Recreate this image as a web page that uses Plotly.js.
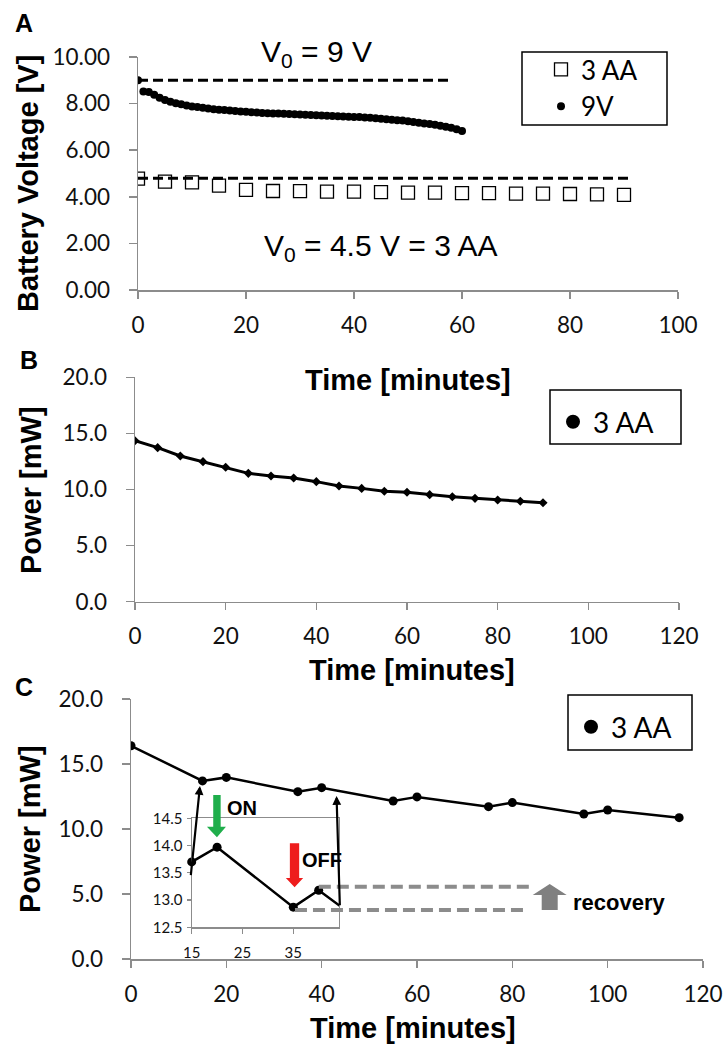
<!DOCTYPE html>
<html>
<head>
<meta charset="utf-8">
<script src="https://cdn.plot.ly/plotly-3.0.1.min.js"></script>
<style>html,body{margin:0;padding:0;background:#fff;}#chart{width:723px;height:1044px;}</style>
</head>
<body>
<div id="chart"></div>
<script>
// ---------- Panel A: battery voltage ----------
const aaTime = [0,5,10,15,20,25,30,35,40,45,50,55,60,65,70,75,80,85,90];
const aaVolt = [4.78,4.65,4.62,4.48,4.30,4.25,4.24,4.22,4.22,4.20,4.18,4.18,4.16,4.16,4.14,4.14,4.12,4.10,4.08];
const nineTime = [0,1,2,3,4,5,6,7,8,9,10,11,12,13,14,15,16,17,18,19,20,21,22,23,24,25,26,27,28,29,30,
  31,32,33,34,35,36,37,38,39,40,41,42,43,44,45,46,47,48,49,50,51,52,53,54,55,56,57,58,59,60];
const nineVolt = [9.00,8.52,8.50,8.38,8.25,8.15,8.08,8.02,7.97,7.92,7.88,7.85,7.82,7.79,7.76,7.74,7.72,7.70,7.68,7.66,
  7.65,7.63,7.62,7.60,7.59,7.58,7.57,7.56,7.55,7.54,7.53,7.52,7.51,7.50,7.49,7.48,7.47,7.46,7.45,7.44,
  7.43,7.42,7.40,7.39,7.37,7.35,7.33,7.31,7.29,7.27,7.24,7.21,7.18,7.15,7.12,7.09,7.05,7.01,6.96,6.90,6.82];
const v0High = 9.0;     // reference level, 9 V battery
const v0Low = 4.8;      // reference level, 3 AA
const aTicksY = [0,2,4,6,8,10];
const aTicksX = [0,20,40,60,80,100];

// ---------- Panel B: power, continuous ----------
const bTime = [0,5,10,15,20,25,30,35,40,45,50,55,60,65,70,75,80,85,90];
const bPower = [14.35,13.73,12.99,12.48,11.98,11.44,11.20,11.03,10.70,10.31,10.10,9.84,9.75,9.54,9.36,9.21,9.06,8.95,8.82];

// ---------- Panel C: power, on/off cycling ----------
const cTime = [0,15,20,35,40,55,60,75,80,95,100,115];
const cPower = [16.4,13.7,13.97,12.87,13.18,12.15,12.47,11.72,12.03,11.15,11.46,10.87];
const insetX = [15,44];
const insetY = [12.5,14.5];
const insetTicksX = [15,25,35];

const labels = {
  aa: '3 AA', nine: '9V',
  timeTitle: 'Time [minutes]', voltTitle: 'Battery Voltage [V]', powerTitle: 'Power [mW]',
  v9: 'V<sub>0</sub> = 9 V', v45: 'V<sub>0</sub> = 4.5 V = 3 AA',
  on: 'ON', off: 'OFF', rec: 'recovery'
};

// ---------- helpers ----------
const W = 723, H = 1044;
const px = v => v / W;
const py = v => 1 - v / H;
const AX = '#8c8c8c';
const TICKF = {family: 'Lato, Carlito, sans-serif', size: 22.5, color: '#111'};
const BOLD = {family: '"Liberation Sans", Arial, sans-serif', size: 29, color: '#000', weight: 700};
const REG30 = {family: '"Liberation Sans", Arial, sans-serif', size: 30, color: '#000'};

function axisBase(extra) {
  return Object.assign({
    showline: true, linecolor: AX, linewidth: 1.5,
    ticks: 'outside', ticklen: 7, tickwidth: 1.5, tickcolor: AX,
    showgrid: false, zeroline: false, tickfont: TICKF,
    ticklabelstandoff: 7, fixedrange: true
  }, extra);
}

function note(x, y, text, font, extra) {
  return Object.assign({xref: 'paper', yref: 'paper', x: px(x), y: py(y), text: text, showarrow: false,
    xanchor: 'center', yanchor: 'middle', font: font}, extra || {});
}

const traces = [
  {x: aaTime, y: aaVolt, xaxis: 'x', yaxis: 'y', mode: 'markers', name: labels.aa, legend: 'legend',
   marker: {symbol: 'square-open', size: 13, color: '#000', line: {width: 1.3, color: '#000'}}},
  {x: nineTime, y: nineVolt, xaxis: 'x', yaxis: 'y', mode: 'markers', name: labels.nine, legend: 'legend',
   marker: {symbol: 'circle', size: 8, color: '#000'}},
  {x: bTime, y: bPower, xaxis: 'x2', yaxis: 'y2', mode: 'lines+markers', showlegend: false,
   line: {color: '#000', width: 3}, marker: {symbol: 'diamond', size: 7, color: '#000'}},
  {x: [null], y: [null], xaxis: 'x2', yaxis: 'y2', mode: 'markers', name: labels.aa, legend: 'legend2',
   marker: {symbol: 'circle', size: 14, color: '#000'}},
  {x: cTime, y: cPower, xaxis: 'x3', yaxis: 'y3', mode: 'lines+markers', showlegend: false,
   line: {color: '#000', width: 2.5}, marker: {symbol: 'circle', size: 9, color: '#000'}},
  {x: [null], y: [null], xaxis: 'x3', yaxis: 'y3', mode: 'markers', name: labels.aa, legend: 'legend3',
   marker: {symbol: 'circle', size: 14, color: '#000'}},
  {x: cTime, y: cPower, xaxis: 'x4', yaxis: 'y4', mode: 'lines+markers', showlegend: false, cliponaxis: false,
   line: {color: '#000', width: 2.5},
   marker: {symbol: 'circle', size: 9, color: '#000',
     opacity: cTime.map((t, i) => (t >= insetX[0] && t <= insetX[1] && cPower[i] >= insetY[0] && cPower[i] <= insetY[1]) ? 1 : 0)}}
];

const layout = {
  width: W, height: H, margin: {l: 0, r: 0, t: 0, b: 0},
  paper_bgcolor: '#fff', plot_bgcolor: 'rgba(0,0,0,0)',
  font: {family: 'Lato, sans-serif', color: '#000'},
  xaxis: axisBase({domain: [px(138), px(678)], range: [0, 100], tickvals: aTicksX, anchor: 'y'}),
  yaxis: axisBase({domain: [py(290), py(57)], range: [0, 10], tickvals: aTicksY, tickformat: '.2f', anchor: 'x', ticklen: 8, ticklabelstandoff: 14}),
  xaxis2: axisBase({domain: [px(135), px(679)], range: [0, 120], dtick: 20, anchor: 'y2'}),
  yaxis2: axisBase({domain: [py(601.7), py(377.3)], range: [0, 20], dtick: 5, tickformat: '.1f', anchor: 'x2', ticklen: 8, ticklabelstandoff: 14}),
  xaxis3: axisBase({domain: [px(131), px(703)], range: [0, 120], dtick: 20, anchor: 'y3'}),
  yaxis3: axisBase({domain: [py(959), py(699)], range: [0, 20], dtick: 5, tickformat: '.1f', anchor: 'x3', ticklen: 8, ticklabelstandoff: 14}),
  xaxis4: axisBase({domain: [px(191.7), px(339)], range: insetX, tickvals: insetTicksX, anchor: 'y4',
    mirror: true, linewidth: 1.2, ticklen: 5, tickwidth: 1.2, ticklabelstandoff: 6,
    tickfont: {family: 'Lato, sans-serif', size: 15, color: '#111'}}),
  yaxis4: axisBase({domain: [py(927.3), py(818.3)], range: insetY, dtick: 0.5, tickformat: '.1f', anchor: 'x4',
    mirror: true, linewidth: 1.2, ticklen: 4, tickwidth: 1.2, ticklabelstandoff: 1,
    tickfont: {family: 'Lato, sans-serif', size: 15, color: '#111'}}),
  legend: {x: px(541), y: py(46), xanchor: 'left', yanchor: 'top', bgcolor: 'rgba(0,0,0,0)', borderwidth: 0,
    font: {family: 'Lato, sans-serif', size: 26, color: '#000'}},
  legend2: {x: px(553), y: py(397), xanchor: 'left', yanchor: 'top', bgcolor: 'rgba(0,0,0,0)', borderwidth: 0,
    font: {family: 'Lato, sans-serif', size: 28, color: '#000'}},
  legend3: {x: px(571), y: py(702), xanchor: 'left', yanchor: 'top', bgcolor: 'rgba(0,0,0,0)', borderwidth: 0,
    font: {family: 'Lato, sans-serif', size: 28, color: '#000'}},
  shapes: [
    // legend boxes
    {type: 'rect', xref: 'paper', yref: 'paper', x0: px(522), x1: px(667), y0: py(125), y1: py(52), line: {color: '#000', width: 1.5}},
    {type: 'rect', xref: 'paper', yref: 'paper', x0: px(550), x1: px(681), y0: py(444), y1: py(390), line: {color: '#000', width: 1.5}},
    {type: 'rect', xref: 'paper', yref: 'paper', x0: px(568), x1: px(692), y0: py(750), y1: py(695), line: {color: '#000', width: 1.5}},
    // V0 reference lines
    {type: 'line', xref: 'x', yref: 'y', x0: 0, x1: 58, y0: v0High, y1: v0High, line: {color: '#000', width: 3, dash: '10px,5px'}},
    {type: 'line', xref: 'x', yref: 'y', x0: 0, x1: 91, y0: v0Low, y1: v0Low, line: {color: '#000', width: 3, dash: '10px,5px'}},
    // recovery dashed levels
    {type: 'line', xref: 'x3', yref: 'y3', x0: 39.4, x1: 84.3, y0: 5.56, y1: 5.56, line: {color: '#8c8c8c', width: 4, dash: '12px,6px'}},
    {type: 'line', xref: 'x3', yref: 'y3', x0: 34.4, x1: 83.2, y0: 3.77, y1: 3.77, line: {color: '#8c8c8c', width: 4, dash: '12px,6px'}},
    // green ON arrow
    {type: 'path', xref: 'x3', yref: 'y3', fillcolor: '#1fae4b', line: {width: 0},
     path: 'M17.25,12.62 L18.81,12.62 L18.81,10.18 L19.92,10.18 L18.03,9.36 L15.93,10.18 L17.25,10.18 Z'},
    // red OFF arrow
    {type: 'path', xref: 'x3', yref: 'y3', fillcolor: '#ee1c1c', line: {width: 0},
     path: 'M33.33,8.90 L35.28,8.90 L35.28,6.23 L36.12,6.23 L34.32,5.52 L32.49,6.23 L33.33,6.23 Z'},
    // gray recovery arrow
    {type: 'path', xref: 'x3', yref: 'y3', fillcolor: '#808080', line: {width: 0},
     path: 'M86.16,3.77 L89.52,3.77 L89.52,4.92 L91.4,4.92 L87.84,5.77 L84.28,4.92 L86.16,4.92 Z'}
  ],
  annotations: [
    note(24, 23, 'A', Object.assign({}, BOLD, {size: 25})),
    note(29, 360, 'B', Object.assign({}, BOLD, {size: 25})),
    note(24, 687, 'C', Object.assign({}, BOLD, {size: 25})),
    note(28, 184, labels.voltTitle, BOLD, {textangle: -90}),
    note(408, 380, labels.timeTitle, BOLD),
    note(31, 490, labels.powerTitle, BOLD, {textangle: -90}),
    note(412, 670, labels.timeTitle, BOLD),
    note(30, 829, labels.powerTitle, BOLD, {textangle: -90}),
    note(413, 1028, labels.timeTitle, BOLD),
    note(316, 54, labels.v9, REG30),
    note(381, 247, labels.v45, REG30),
    {xref: 'x3', yref: 'y3', x: 23.27, y: 11.62, text: labels.on, showarrow: false,
     font: {family: '"Liberation Sans", Arial, sans-serif', size: 20, color: '#000', weight: 700}},
    {xref: 'x3', yref: 'y3', x: 40.04, y: 7.62, text: labels.off, showarrow: false,
     font: {family: '"Liberation Sans", Arial, sans-serif', size: 20, color: '#000', weight: 700}},
    {xref: 'x3', yref: 'y3', x: 102.5, y: 4.38, text: labels.rec, showarrow: false,
     font: {family: '"Liberation Sans", Arial, sans-serif', size: 22, color: '#000', weight: 700}},
    // zoom connector arrows (inset -> main curve)
    {xref: 'x3', yref: 'y3', axref: 'x3', ayref: 'y3', x: 14.47, y: 13.31, ax: 12.52, ay: 6.33, text: '',
     showarrow: true, arrowhead: 2, arrowsize: 0.8, arrowwidth: 2.2, arrowcolor: '#000'},
    {xref: 'x3', yref: 'y3', axref: 'x3', ayref: 'y3', x: 43.12, y: 12.54, ax: 43.82, ay: 4.02, text: '',
     showarrow: true, arrowhead: 2, arrowsize: 0.8, arrowwidth: 2.2, arrowcolor: '#000'}
  ]
};

Plotly.newPlot('chart', traces, layout, {staticPlot: true, displayModeBar: false});
</script>
</body>
</html>
